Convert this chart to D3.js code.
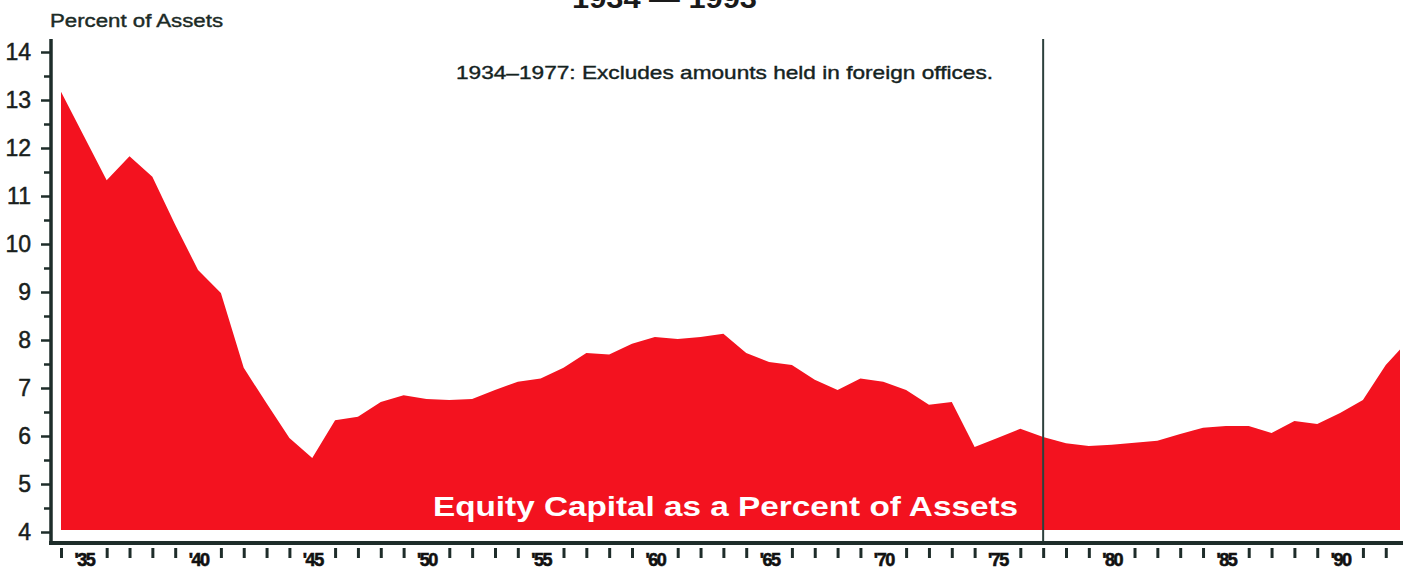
<!DOCTYPE html>
<html>
<head>
<meta charset="utf-8">
<script src="https://cdn.jsdelivr.net/npm/d3@7"></script>
<style>
    html, body { margin: 0; padding: 0; background: #fff; }
    svg { display: block; }
    text { font-family: "Liberation Sans", Arial, Helvetica, sans-serif; }
</style>
</head>
<body>
<div id="chart"></div>
<script>
// Equity capital as a percent of assets, 1934 - 1993
const years = d3.range(1934, 1994);
const equityPct = [
    13.17, 12.25, 11.33, 11.83, 11.40, 10.40, 9.46, 8.98, 7.42, 6.68,   // 1934-43
    5.96, 5.54, 6.33, 6.40, 6.71, 6.85, 6.77, 6.75, 6.77, 6.96,         // 1944-53
    7.13, 7.20, 7.42, 7.73, 7.70, 7.92, 8.06, 8.02, 8.06, 8.13,         // 1954-63
    7.73, 7.54, 7.48, 7.17, 6.96, 7.20, 7.13, 6.96, 6.65, 6.71,         // 1964-73
    5.77, 5.96, 6.15, 5.98, 5.85, 5.79, 5.82, 5.86, 5.90, 6.04,         // 1974-83
    6.17, 6.21, 6.21, 6.06, 6.31, 6.25, 6.48, 6.75, 7.48, 8.00          // 1984-93
];
const yTicks = d3.range(4, 15);
const yMinorTicks = d3.range(4.5, 14, 1);
const breakYear = 1977;

const TITLE = "1934  \u2014  1993";
const Y_LABEL = "Percent of Assets";
const NOTE = "1934\u20131977: Excludes amounts held in foreign offices.";
const SERIES_LABEL = "Equity Capital as a Percent of Assets";

const WIDTH = 1409;
const HEIGHT = 570;
const AXIS_COLOR = "#1e2d2a";
const FILL = "#f3121f";

const svg = d3.select("#chart")
    .append("svg")
    .attr("width", WIDTH)
    .attr("height", HEIGHT);

const x = d3.scaleLinear()
    .domain([1934, 1993])
    .range([61, 1408.6]);

const y = d3.scaleLinear()
    .domain([4, 14])
    .range([532, 52]);

// plot is cut at the right edge of the frame
svg.append("defs")
    .append("clipPath")
    .attr("id", "plot-clip")
    .append("rect")
    .attr("x", 0)
    .attr("y", 0)
    .attr("width", 1400)
    .attr("height", HEIGHT);

const data = years.map((yr, i) => ({ year: yr, value: equityPct[i] }));

const area = d3.area()
    .x(d => x(d.year))
    .y0(y(4) - 2)
    .y1(d => y(d.value));

svg.append("path")
    .datum(data)
    .attr("clip-path", "url(#plot-clip)")
    .attr("fill", FILL)
    .attr("d", area);

// series label inside the area
svg.append("text")
    .attr("x", 433)
    .attr("y", 516)
    .attr("textLength", 585)
    .attr("lengthAdjust", "spacingAndGlyphs")
    .attr("fill", "#fff")
    .style("font-size", "28px")
    .style("font-weight", "bold")
    .text(SERIES_LABEL);

// break line at 1977
svg.append("line")
    .attr("x1", x(breakYear))
    .attr("x2", x(breakYear))
    .attr("y1", 39)
    .attr("y2", 543)
    .attr("stroke", "#2c403c")
    .attr("stroke-width", 2);

// y axis
const yAxis = svg.append("g")
    .attr("transform", "translate(51,0)")
    .call(d3.axisLeft(y)
        .tickValues(yTicks)
        .tickSize(10)
        .tickSizeOuter(0)
        .tickPadding(10)
        .tickFormat(d3.format("d")));

yAxis.select(".domain").remove();
yAxis.selectAll(".tick line")
    .attr("stroke", AXIS_COLOR)
    .attr("stroke-width", 2.5);
yAxis.selectAll(".tick text")
    .attr("fill", "#1a1f1d")
    .attr("stroke", "#1a1f1d")
    .attr("stroke-width", 0.5)
    .style("font-size", "23px");

const yMinor = svg.append("g")
    .attr("transform", "translate(51,0)")
    .call(d3.axisLeft(y)
        .tickValues(yMinorTicks)
        .tickSize(7)
        .tickFormat(""));

yMinor.select(".domain").remove();
yMinor.selectAll(".tick line")
    .attr("stroke", AXIS_COLOR)
    .attr("stroke-width", 2.5);

// frame lines
svg.append("line")
    .attr("x1", 51).attr("x2", 51)
    .attr("y1", 39).attr("y2", 545)
    .attr("stroke", AXIS_COLOR)
    .attr("stroke-width", 3.5);

svg.append("line")
    .attr("x1", 49).attr("x2", 1403)
    .attr("y1", 543).attr("y2", 543)
    .attr("stroke", AXIS_COLOR)
    .attr("stroke-width", 4);

// x axis: year ticks, every fifth year gets a label instead of a tick
const xAxis = svg.append("g")
    .attr("transform", "translate(0,548)")
    .call(d3.axisBottom(x)
        .tickValues(years.filter(yr => yr < 1993))
        .tickSize(10)
        .tickSizeOuter(0)
        .tickFormat(yr => yr % 5 === 0 ? "'" + String(yr).slice(2) : ""));

xAxis.select(".domain").remove();
xAxis.selectAll(".tick line")
    .attr("stroke", AXIS_COLOR)
    .attr("stroke-width", 3)
    .attr("opacity", d => d % 5 === 0 ? 0 : 1);
xAxis.selectAll(".tick text")
    .attr("y", 0)
    .attr("dy", 18)
    .attr("fill", "#111")
    .attr("stroke", "#111")
    .attr("stroke-width", 0.6)
    .style("font-size", "18px")
    .style("font-weight", "bold")
    .style("letter-spacing", "-1.5px");

// texts
svg.append("text")
    .attr("x", 50)
    .attr("y", 27)
    .attr("textLength", 173)
    .attr("lengthAdjust", "spacingAndGlyphs")
    .attr("fill", "#1c2b26")
    .attr("stroke", "#1c2b26")
    .attr("stroke-width", 0.4)
    .style("font-size", "18px")
    .text(Y_LABEL);

svg.append("text")
    .attr("x", 456)
    .attr("y", 79)
    .attr("textLength", 537)
    .attr("lengthAdjust", "spacingAndGlyphs")
    .attr("fill", "#15231f")
    .attr("stroke", "#15231f")
    .attr("stroke-width", 0.4)
    .style("font-size", "19px")
    .text(NOTE);

svg.append("text")
    .attr("x", 572)
    .attr("y", 8)
    .attr("textLength", 185)
    .attr("lengthAdjust", "spacingAndGlyphs")
    .attr("fill", "#1a1a1a")
    .style("font-size", "27px")
    .style("font-weight", "bold")
    .text(TITLE);
</script>
</body>
</html>
